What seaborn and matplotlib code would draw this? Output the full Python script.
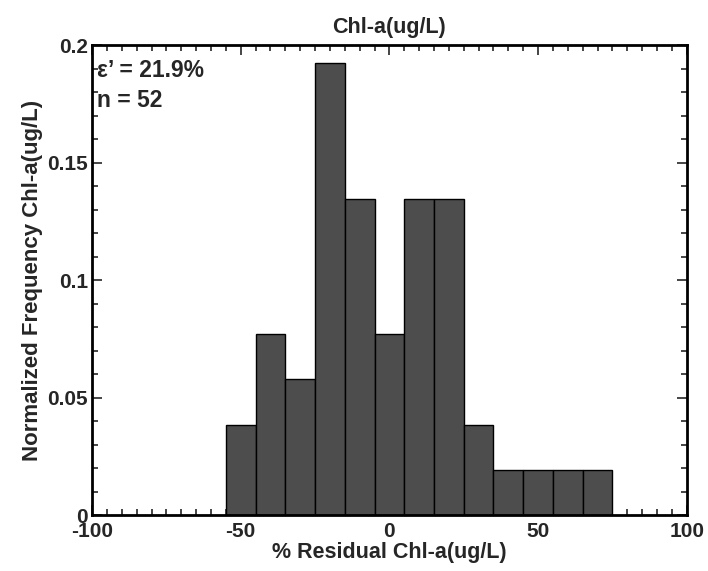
import numpy as np
import pandas as pd
import matplotlib
matplotlib.use("Agg")
import matplotlib.pyplot as plt
import seaborn as sns
from matplotlib.ticker import MultipleLocator

sns.set_style("ticks")
plt.rcParams['font.family'] = ['Liberation Sans', 'DejaVu Sans']
plt.rcParams['font.weight'] = 'bold'

# Data
bin_edges = [-55, -45, -35, -25, -15, -5, 5, 15, 25, 35, 45, 55, 65, 75]
bin_centers = [-50, -40, -30, -20, -10, 0, 10, 20, 30, 40, 50, 60, 70]
counts = [2, 4, 3, 10, 7, 4, 7, 7, 2, 1, 1, 1, 1]
n_total = 52
freq = [c / n_total for c in counts]
title = "Chl-a(ug/L)"
xlabel = "% Residual Chl-a(ug/L)"
ylabel = "Normalized Frequency Chl-a(ug/L)"
annot = ["\u03b5\u2019 = 21.9%", "n = 52"]

df = pd.DataFrame({"center": bin_centers, "freq": freq})

fig = plt.figure(figsize=(7.08, 5.71), dpi=100)
ax = fig.add_axes([0.130, 0.098, 0.840, 0.823])

sns.histplot(data=df, x="center", weights="freq", bins=bin_edges, ax=ax,
             color="#4d4d4d", edgecolor="black", linewidth=1.0, alpha=1.0)

ax.set_xlim(-100, 100)
ax.set_ylim(0, 0.2)
ax.set_xticks([-100, -50, 0, 50, 100])
ax.set_xticklabels(["-100", "-50", "0", "50", "100"])
ax.set_yticks([0, 0.05, 0.1, 0.15, 0.2])
ax.set_yticklabels(["0", "0.05", "0.1", "0.15", "0.2"])
ax.xaxis.set_minor_locator(MultipleLocator(5))
ax.yaxis.set_minor_locator(MultipleLocator(0.01))
ax.tick_params(which="both", direction="in", top=True, right=True, width=1.2)
ax.tick_params(which="major", length=7, labelsize=15)
ax.tick_params(axis="x", which="major", pad=5)
ax.tick_params(axis="y", which="major", pad=3)
ax.tick_params(which="minor", length=4)
for lbl in ax.get_xticklabels() + ax.get_yticklabels():
    lbl.set_fontweight("bold")
for s in ax.spines.values():
    s.set_linewidth(2)
    s.set_color("black")

ax.set_title(title, fontsize=15.5, fontweight="bold", pad=9)
ax.set_xlabel(xlabel, fontsize=15.5, fontweight="bold", labelpad=1)
ax.set_ylabel(ylabel, fontsize=16, fontweight="bold", labelpad=3)

ax.text(0.008, 0.947, annot[0], transform=ax.transAxes, fontsize=16.5, fontweight="bold", va="center", ha="left")
ax.text(0.008, 0.883, annot[1], transform=ax.transAxes, fontsize=16.5, fontweight="bold", va="center", ha="left")

fig.savefig("out.png", dpi=100)
